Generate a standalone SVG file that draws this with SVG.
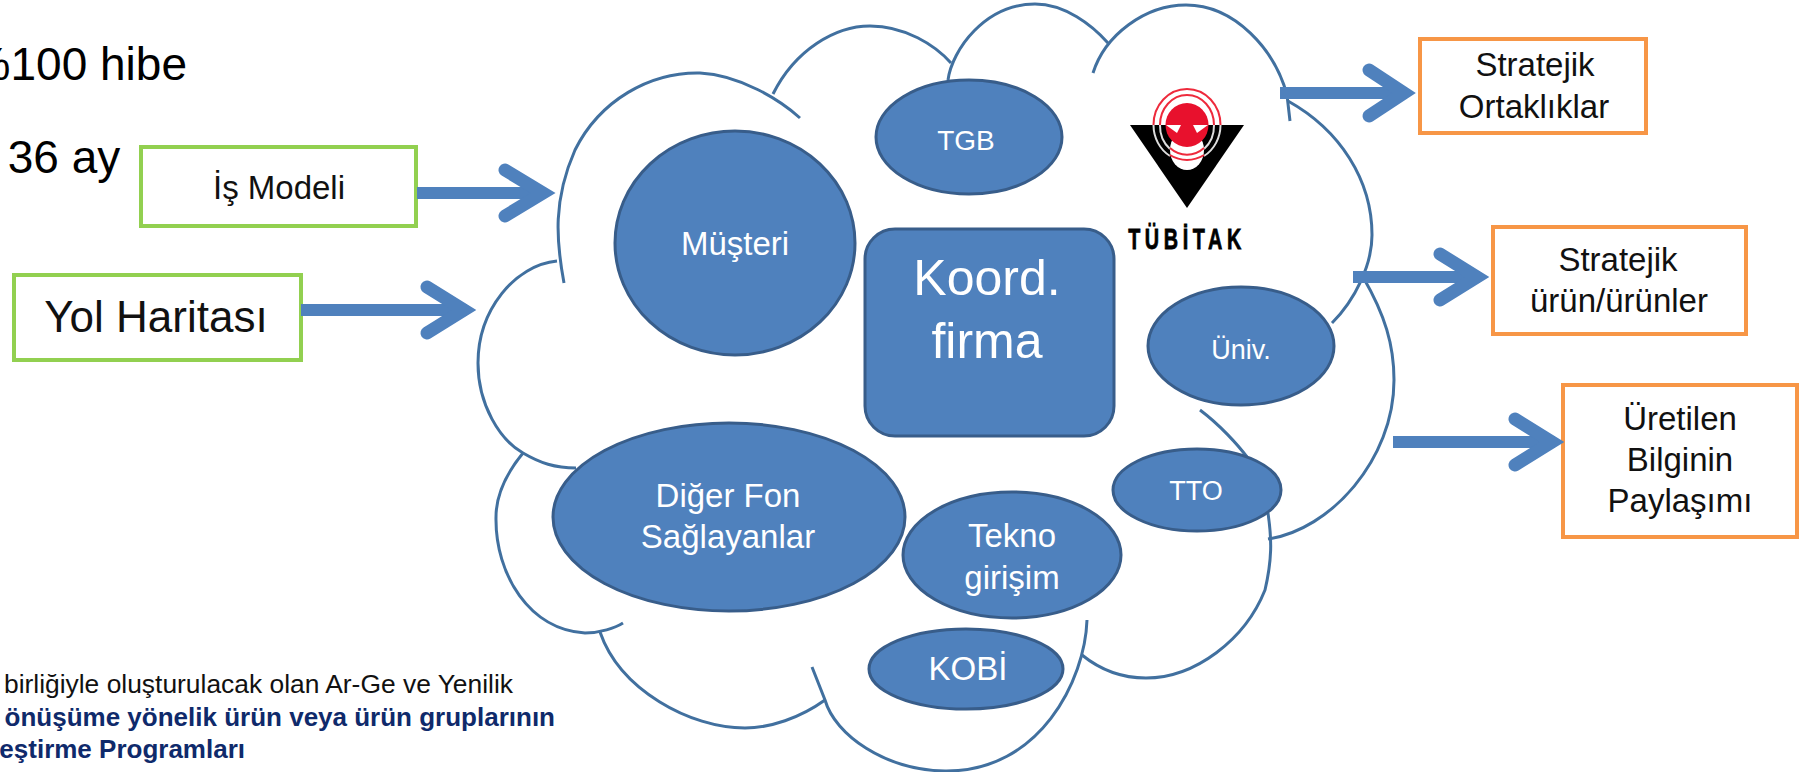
<svg xmlns="http://www.w3.org/2000/svg" width="1811" height="772" viewBox="0 0 1811 772">
<style>
text{font-family:"Liberation Sans",Arial,sans-serif;text-anchor:middle}
.k{fill:#111}
.w{fill:#fff}
.big{font-size:46px;fill:#000}
.lab{font-size:33px;fill:#111}
.cap{font-size:33px;fill:#fff}
.sm{font-size:27px;fill:#fff}
.note{font-size:26.4px;fill:#111;text-anchor:end}
.noteb{font-size:26px;font-weight:bold;fill:#0f2a6b;text-anchor:end}
.cloud{fill:none;stroke:#41709f;stroke-width:3;stroke-linecap:butt}
.oval{fill:#4f81bd;stroke:#385d8a;stroke-width:3}
.green{fill:#fff;stroke:#92d050;stroke-width:4}
.orange{fill:#fff;stroke:#f79646;stroke-width:4}
.shaft{fill:none;stroke:#4f81bd;stroke-width:12}
.head{fill:none;stroke:#4f81bd;stroke-width:13;stroke-linecap:round;stroke-linejoin:miter;stroke-miterlimit:6}
</style>
<g id="page-text">
<text class="big" x="187" y="80" style="text-anchor:end">%100 hibe</text>
<text class="big" x="64" y="173">36 ay</text>
<text class="note" x="513" y="693">birliğiyle oluşturulacak olan Ar-Ge ve Yenilik</text>
<text class="noteb" x="555" y="726">önüşüme yönelik ürün veya ürün gruplarının</text>
<text class="noteb" x="245" y="758">eştirme Programları</text>
</g>
<g id="cloud">
<path class="cloud" d="M564 283C556 240 553 200 575 150C600 100 650 72 700 73C740 75 780 100 800 118"/>
<path class="cloud" d="M773 94C795 50 835 26 870 26C905 26 935 45 951 63"/>
<path class="cloud" d="M948 80C952 50 985 4 1035 4C1065 4 1092 25 1108 43"/>
<path class="cloud" d="M1093 73C1105 35 1145 5 1186 5C1235 5 1275 50 1287 95L1290 121"/>
<path class="cloud" d="M1288 101C1340 130 1372 180 1372 235C1372 265 1355 300 1332 323"/>
<path class="cloud" d="M1363 277C1385 315 1394 345 1394 380C1394 460 1330 530 1268 539"/>
<path class="cloud" d="M1200 410C1220 425 1238 445 1247 457"/>
<path class="cloud" d="M1268 513C1272 540 1272 560 1265 590C1245 640 1195 678 1146 678C1120 678 1098 668 1082 655"/>
<path class="cloud" d="M1087 620C1085 680 1040 772 945 771C885 770 835 735 825 700L812 667"/>
<path class="cloud" d="M825 700C800 718 770 728 745 728C690 728 620 690 600 632"/>
<path class="cloud" d="M623 623C615 628 600 633 585 633C530 630 495 575 496 517C496 495 505 475 523 453"/>
<path class="cloud" d="M557 261C515 265 478 310 478 363C478 405 500 440 523 453C540 463 555 468 576 468"/>
</g>
<g id="is-modeli"><rect class="green" x="141" y="147" width="275" height="79"/><text class="lab" x="279" y="199">İş Modeli</text></g>
<g id="yol-haritasi"><rect class="green" x="14" y="275" width="287" height="85"/><text class="k" font-size="44" x="156" y="332">Yol Haritası</text></g>
<g id="musteri"><ellipse class="oval" cx="735" cy="243" rx="120" ry="112"/><text class="cap" x="735" y="255">Müşteri</text></g>
<g id="tgb"><ellipse class="oval" cx="969" cy="137" rx="93" ry="57"/><text class="sm" font-size="28" style="font-size:28px" x="966" y="150">TGB</text></g>
<g id="koord"><rect class="oval" x="865" y="229" width="249" height="207" rx="30"/><text class="w" font-size="50" x="987" y="295">Koord.</text><text class="w" font-size="50" x="987" y="358">firma</text></g>
<g id="univ"><ellipse class="oval" cx="1241" cy="346" rx="93" ry="59"/><text class="sm" x="1241" y="359">Üniv.</text></g>
<g id="tto"><ellipse class="oval" cx="1197" cy="490" rx="84" ry="41"/><text class="sm" x="1196" y="500">TTO</text></g>
<g id="diger-fon"><ellipse class="oval" cx="729" cy="517" rx="176" ry="94"/><text class="cap" x="728" y="507">Diğer Fon</text><text class="cap" x="728" y="548">Sağlayanlar</text></g>
<g id="tekno"><ellipse class="oval" cx="1012" cy="555" rx="109" ry="63"/><text class="cap" x="1012" y="547">Tekno</text><text class="cap" x="1012" y="589">girişim</text></g>
<g id="kobi"><ellipse class="oval" cx="966" cy="669" rx="97" ry="40"/><text class="cap" x="968" y="680">KOBİ</text></g>
<g id="tubitak">
<g fill="none" stroke="#ee2a3c" stroke-width="2">
<ellipse cx="1187" cy="125" rx="33.5" ry="36"/>
<ellipse cx="1187" cy="125" rx="27" ry="30"/>
</g>
<path d="M1130 125H1244L1187 208Z" fill="#000"/>
<ellipse cx="1187" cy="150" rx="17" ry="20" fill="#fff"/>
<path d="M1153.5 125A33.5 36 0 0 0 1170 156M1204 156A33.5 36 0 0 0 1220.500 125M1160 125A27 30 0 0 0 1170 149M1204 149A27 30 0 0 0 1214 125" fill="none" stroke="#ddd" stroke-width="2"/>
<path d="M1170 155A33.500 36 0 0 0 1204 155" fill="none" stroke="#ee2a3c" stroke-width="2"/>
<path d="M1170 148A27 30 0 0 0 1204 148" fill="none" stroke="#ee2a3c" stroke-width="2"/>
<ellipse cx="1187" cy="125" rx="21.500" ry="22" fill="#e8112d"/>
<path d="M1166 125H1181L1177 133ZM1208 125H1193L1197 133Z" fill="#fff"/>
<text transform="translate(1187 249) scale(.66 1)" font-size="30" font-weight="bold" letter-spacing="7" stroke="#000" stroke-width=".8" fill="#000">TÜBİTAK</text>
</g>
<g id="stratejik-ortakliklar"><rect class="orange" x="1420" y="39" width="226" height="94"/><text class="lab" x="1535" y="76">Stratejik</text><text class="lab" x="1534" y="118">Ortaklıklar</text></g>
<g id="stratejik-urun"><rect class="orange" x="1493" y="227" width="253" height="107"/><text class="lab" x="1618" y="271">Stratejik</text><text class="lab" x="1619" y="312">ürün/ürünler</text></g>
<g id="uretilen-bilgi"><rect class="orange" x="1563" y="385" width="234" height="152"/><text class="lab" x="1680" y="430">Üretilen</text><text class="lab" x="1680" y="471">Bilginin</text><text class="lab" x="1680" y="512">Paylaşımı</text></g>
<g id="connectors">
<path class="shaft" d="M417 193H540"/><path class="head" d="M505 170L543 193L505 216"/>
<path class="shaft" d="M301 310H462"/><path class="head" d="M427 287L464 310L427 333"/>
<path class="shaft" d="M1280 93H1402"/><path class="head" d="M1369 70L1404 93L1369 116"/>
<path class="shaft" d="M1353 277H1475"/><path class="head" d="M1440 254L1477 277L1440 300"/>
<path class="shaft" d="M1393 442H1550"/><path class="head" d="M1515 419L1552 442L1515 465"/>
</g>
</svg>
